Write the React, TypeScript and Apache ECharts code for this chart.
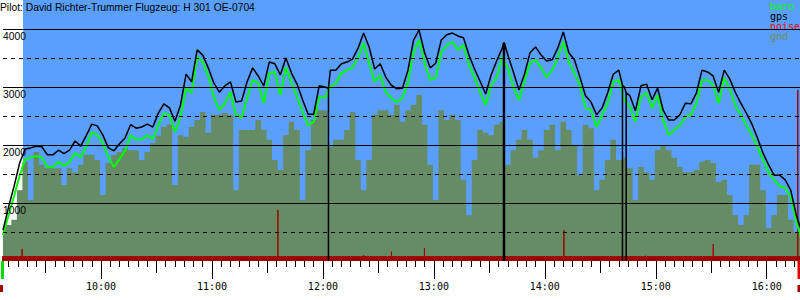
import React, { useEffect, useRef } from 'react';
import * as echarts from 'echarts';

const chartTitle = 'Pilot: David Richter-Trummer Flugzeug: H 301 OE-0704';

// visible time window (h:mm)
const viewStart = '9:07';
const viewEnd = '16:18';
const skyStart = '9:17:50';

// altitude samples, every 3 minutes from 9:07
const sampleStart = '9:07';
const sampleStepMinutes = 3;

const gpsAltitude = [
  530, 930, 1290, 1690, 1930, 1950, 1980, 1970, 1830, 1830,
  1910, 1850, 1910, 2070, 1980, 2160, 2360, 2330, 2170, 1950,
  1900, 2020, 2120, 2350, 2290, 2310, 2360, 2310, 2550, 2710,
  2640, 2410, 2690, 3220, 3090, 3640, 3550, 3330, 3070, 2910,
  3020, 3090, 2740, 2760, 3090, 3330, 3190, 3020, 3430, 3400,
  3210, 3500, 3240, 3050, 2780, 2530, 2530, 3020, 3000, 3290,
  3290, 3400, 3430, 3480, 3670, 3930, 3690, 3310, 3400, 3170,
  3030, 2970, 2980, 3290, 3810, 3980, 3590, 3330, 3410, 3810,
  3900, 3930, 3880, 3850, 3550, 3310, 3100, 2880, 3210, 3450,
  3670, 3550, 3260, 2950, 3220, 3590, 3690, 3550, 3450, 3470,
  3670, 3950, 3590, 3470, 3170, 2850, 2740, 2520, 2640, 2900,
  3220, 3290, 3000, 2850, 2590, 3020, 3050, 2780, 2980, 2600,
  2430, 2430, 2520, 2720, 2710, 2900, 3290, 3260, 3190, 2910,
  3290, 3140, 2910, 2720, 2550, 2360, 2120, 1860, 1660, 1480,
  1480, 1400, 1220, 790, 500,
];

const baroAltitude = [
  450, 790, 1120, 1470, 1760, 1780, 1810, 1790, 1620, 1620,
  1710, 1640, 1710, 1860, 1790, 1970, 2220, 2170, 2030, 1790,
  1620, 1760, 1900, 2170, 2090, 2100, 2170, 2100, 2340, 2550,
  2520, 2220, 2480, 2980, 2900, 3520, 3430, 3190, 2830, 2600,
  2720, 2910, 2520, 2470, 2810, 3120, 3070, 2720, 3240, 3260,
  2860, 3340, 3070, 2830, 2570, 2340, 2400, 2830, 2810, 3000,
  3070, 3240, 3290, 3340, 3500, 3760, 3410, 3090, 3210, 2910,
  2810, 2740, 2810, 3070, 3600, 3810, 3410, 3120, 3160, 3600,
  3720, 3780, 3640, 3720, 3380, 3160, 2910, 2690, 3030, 3170,
  3520, 3330, 3000, 2780, 3100, 3410, 3470, 3330, 3170, 3290,
  3500, 3780, 3430, 3240, 3030, 2640, 2600, 2310, 2520, 2720,
  3090, 3120, 2780, 2660, 2400, 2830, 2900, 2640, 2860, 2430,
  2170, 2260, 2340, 2480, 2520, 2720, 3120, 3120, 3030, 2720,
  3160, 2970, 2690, 2520, 2340, 2170, 1970, 1740, 1530, 1400,
  1290, 1260, 1100, 670, 360,
];

const groundAltitude = [
  570, 620, 710, 1220, 1710, 1050, 1880, 1660, 1600, 1600,
  1600, 1310, 1600, 1520, 1660, 1830, 1830, 1740, 1140, 1690,
  1830, 1880, 1950, 1910, 1910, 1740, 1880, 2030, 2160, 2310,
  2350, 1310, 2170, 2140, 2310, 2430, 2570, 2210, 2520, 2520,
  2550, 2520, 1220, 2260, 2260, 2260, 2430, 2260, 2090, 1740,
  1570, 2170, 2400, 2260, 1050, 1910, 2430, 2600, 2600, 1970,
  2090, 2090, 2260, 2570, 1740, 1220, 1740, 2520, 2600, 2600,
  2520, 2690, 2400, 2600, 2690, 2860, 2350, 1660, 1050, 2600,
  2430, 2520, 2430, 1400, 790, 1740, 2260, 2210, 2170, 2350,
  2400, 1660, 1910, 2090, 2260, 2090, 1780, 1910, 2260, 2350,
  1910, 2400, 2260, 2000, 1480, 2350, 2290, 1220, 1400, 1740,
  2090, 1740, 1780, 1600, 1050, 1620, 1530, 1400, 1910, 2000,
  1910, 1780, 1620, 1530, 1530, 1570, 1710, 1740, 1690, 1360,
  1400, 1140, 790, 620, 790, 1660, 1660, 1220, 570, 790,
  1140, 1140, 710, 500, 480,
];

// moments where the gps altitude dropped out to 0
const gpsDropoutTimes = ['12:03:00', '13:37:40', '13:38:10', '14:42:00', '14:44:00'];
const gpsDropoutFrom = [2980, 3760, 3760, 3030, 2900];

// engine noise level
const noiseBaseline = 75;
const noiseSpikeTimes = ['9:17:20', '11:35:40', '12:22:00', '12:37:05', '12:54:55', '14:10:20', '14:54:30', '15:31:05', '16:16:50'];
const noiseSpikeValues = [210, 880, 100, 160, 220, 530, 90, 290, 2950];

const altitudeMax = 4500;
const solidGridValues = [1000, 2000, 3000, 4000];
const dashedGridValues = [500, 1500, 2500, 3500];

// tick spacing in minutes
const minorTickMinutes = 5;
const halfHourMinutes = 30;
const hourMinutes = 60;

const legendNames = ['baro', 'gps', 'noise', 'gnd'];
const legendColors = ['#00ff00', '#000000', '#ff0000', '#6e8c5e'];

const SKY = '#5a9ffe';
const GROUND = '#658c65';
const NOISE = '#a00000';

function toMin(s: string): number {
  const p = s.split(':').map(Number);
  return p[0] * 60 + p[1] + (p[2] || 0) / 60;
}

function fmt(v: number): string {
  const h = Math.floor(v / 60);
  const m = Math.round(v - h * 60);
  return `${h}:${String(m).padStart(2, '0')}`;
}

export default function App() {
  const ref = useRef<HTMLDivElement>(null);

  useEffect(() => {
    if (!ref.current) return;
    const chart = echarts.init(ref.current, undefined, { renderer: 'svg' });

    const plotH = 261;
    const vs = toMin(viewStart);
    const ve = toMin(viewEnd);

    // one category per minute, used only to place the ticks
    const minuteCats: string[] = [];
    for (let m = vs; m <= ve; m++) minuteCats.push(fmt(m));
    const every = (step: number) => (idx: number) => (vs + idx) % step === 0;

    const t0 = toMin(sampleStart);
    const times = gpsAltitude.map((_, i) => t0 + i * sampleStepMinutes);

    const gpsPts: number[][] = times.map((t, i) => [t, gpsAltitude[i]]);
    gpsDropoutTimes.forEach((s, i) => {
      const t = toMin(s);
      gpsPts.push([t, gpsDropoutFrom[i]], [t, 0], [t, gpsDropoutFrom[i]]);
    });
    gpsPts.sort((a, b) => a[0] - b[0]);

    const baroPts = times.map((t, i) => [t, baroAltitude[i]]);
    const gndPts = times.map((t, i) => [t, groundAltitude[i]]);

    const noisePts: number[][] = [[vs - 5, noiseBaseline]];
    noiseSpikeTimes.forEach((s, i) => {
      const t = toMin(s);
      noisePts.push([t, noiseBaseline], [t, noiseSpikeValues[i]], [t, noiseBaseline]);
    });
    noisePts.push([ve + 5, noiseBaseline]);

    const skyPts = [[toMin(skyStart), altitudeMax], [ve + 5, altitudeMax]];

    const mono = 'DejaVu Sans Mono';
    const sans = 'Liberation Sans';

    const catAxis = (step: number, len: number, labels: boolean) => ({
      type: 'category' as const,
      data: minuteCats,
      boundaryGap: false,
      position: 'bottom' as const,
      axisLine: { show: false },
      splitLine: { show: false },
      axisTick: { show: true, interval: every(step), length: len, lineStyle: { color: '#000', width: 1 } },
      axisLabel: labels
        ? { show: true, interval: every(step), margin: 20, fontFamily: mono, fontSize: 10, color: '#000' }
        : { show: false },
    });

    const option: any = {
      animation: false,
      backgroundColor: '#ffffff',
      title: {
        text: chartTitle,
        left: 0,
        top: 2,
        padding: 0,
        textStyle: { fontFamily: sans, fontSize: 10.3, fontWeight: 'normal', color: '#000' },
      },
      legend: {
        orient: 'vertical',
        left: 765,
        top: 1,
        padding: 0,
        itemGap: 0,
        itemWidth: 0,
        itemHeight: 0,
        icon: 'rect',
        selectedMode: false,
        textStyle: { fontFamily: mono, fontSize: 10, lineHeight: 10, padding: 0 },
        data: legendNames.map((n, i) => ({ name: n, textStyle: { color: legendColors[i] } })),
      },
      grid: { left: 0, top: 0, right: 0, height: plotH },
      xAxis: [
        { type: 'value', min: vs, max: ve, show: false },
        catAxis(minorTickMinutes, 6, false),
        catAxis(halfHourMinutes, 12, false),
        catAxis(hourMinutes, 18, true),
      ],
      yAxis: {
        type: 'value',
        min: 0,
        max: altitudeMax,
        interval: 1000,
        z: 10,
        axisLine: { show: false },
        axisTick: { show: false },
        splitLine: { show: false },
        axisLabel: {
          inside: true,
          margin: 0,
          verticalAlign: 'top',
          padding: [2, 0, 0, 0],
          fontFamily: sans,
          fontSize: 10.3,
          color: '#000',
          formatter: (v: number) => (v >= 1000 && v <= 4000 ? String(v) : ''),
        },
      },
      series: [
        {
          name: 'sky',
          type: 'line',
          xAxisIndex: 0,
          data: skyPts,
          symbol: 'none',
          silent: true,
          lineStyle: { width: 0 },
          areaStyle: { color: SKY, opacity: 1 },
          z: 1,
        },
        {
          name: 'gnd',
          type: 'line',
          xAxisIndex: 0,
          step: 'middle',
          data: gndPts,
          symbol: 'none',
          silent: true,
          color: GROUND,
          lineStyle: { width: 0 },
          areaStyle: { color: GROUND, opacity: 1 },
          z: 2,
        },
        {
          name: 'noise',
          type: 'line',
          xAxisIndex: 0,
          data: noisePts,
          symbol: 'none',
          silent: true,
          color: NOISE,
          lineStyle: { width: 1, color: NOISE },
          areaStyle: { color: NOISE, opacity: 1 },
          z: 3,
          markLine: {
            silent: true,
            symbol: 'none',
            label: { show: false },
            animation: false,
            data: [
              ...solidGridValues.map((v) => ({ yAxis: v, lineStyle: { color: '#000', width: 1, type: 'solid' } })),
              ...dashedGridValues.map((v) => ({ yAxis: v, lineStyle: { color: '#000', width: 1, type: [4, 4] } })),
            ],
          },
        },
        {
          name: 'baro',
          type: 'line',
          xAxisIndex: 0,
          data: baroPts,
          symbol: 'none',
          silent: true,
          color: '#00ff00',
          lineStyle: { width: 2, color: '#00ff00' },
          z: 4,
        },
        {
          name: 'gps',
          type: 'line',
          xAxisIndex: 0,
          data: gpsPts,
          symbol: 'none',
          silent: true,
          color: '#000000',
          lineStyle: { width: 1.5, color: '#000000' },
          z: 5,
        },
      ],
      graphic: [
        { type: 'rect', shape: { x: 1, y: 261, width: 3, height: 18 }, style: { fill: '#00dd00' }, silent: true },
        { type: 'rect', shape: { x: 0, y: 285, width: 3, height: 7 }, style: { fill: NOISE }, silent: true },
        { type: 'rect', shape: { x: 797.5, y: 261, width: 2.5, height: 18 }, style: { fill: '#dd0000' }, silent: true },
        { type: 'rect', shape: { x: 797.5, y: 285, width: 2.5, height: 7 }, style: { fill: NOISE }, silent: true },
      ],
    };

    chart.setOption(option);
    return () => chart.dispose();
  }, []);

  return (
    <div
      ref={ref}
      style={{ position: 'absolute', left: 0, top: 0, width: 800, height: 300, background: '#fff' }}
    />
  );
}
